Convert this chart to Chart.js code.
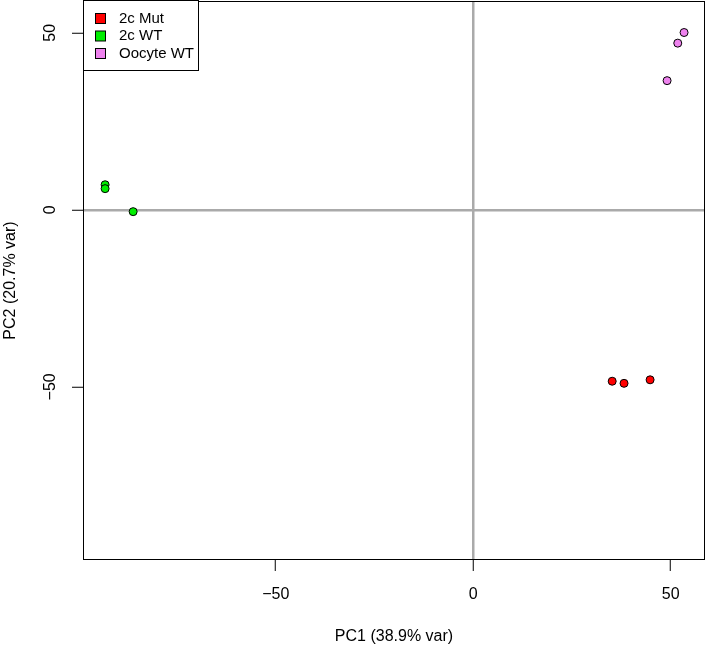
<!DOCTYPE html>
<html>
<head>
<meta charset="utf-8">
<script src="https://cdn.jsdelivr.net/npm/chart.js@4/dist/chart.umd.min.js"></script>
<style>
  html, body { margin: 0; padding: 0; background: #fff; }
  #wrap { width: 708px; height: 647px; }
</style>
</head>
<body>
<div id="wrap"><canvas id="pca"></canvas></div>
<script>
// PCA scores
var groups = ['2c Mut', '2c WT', 'Oocyte WT'];
var colors = ['#ff0000', '#00ee00', '#ee82ee'];

var mutPC1 = [35.2, 38.2, 44.8];
var mutPC2 = [-48.4, -49.0, -48.0];
var wtPC1 = [-93.2, -93.2, -86.1];
var wtPC2 = [7.1, 6.0, -0.5];
var oocPC1 = [53.4, 51.8, 49.1];
var oocPC2 = [50.1, 47.1, 36.5];

var xTicks = [-50, 0, 50];
var yTicks = [-50, 0, 50];

function pts(xs, ys) {
  return xs.map(function (x, i) { return { x: x, y: ys[i] }; });
}
var series = [pts(mutPC1, mutPC2), pts(wtPC1, wtPC2), pts(oocPC1, oocPC2)];

var FONT = 'Liberation Sans, Arial, sans-serif';
var minus = function (v) { return String(v).replace('-', '\u2212'); };

// frame around plot + R style legend box
var framePlugin = {
  id: 'frame',
  afterDraw: function (chart) {
    var ctx = chart.ctx, a = chart.chartArea;
    ctx.save();
    ctx.strokeStyle = '#000';
    ctx.lineWidth = 1;
    ctx.strokeRect(a.left + 0.5, a.top + 0.5, a.right - a.left - 1, a.bottom - a.top - 1);

    // legend
    var lx = a.left, ly = a.top - 1, lw = 115, lh = 70;
    ctx.fillStyle = '#fff';
    ctx.fillRect(lx, ly, lw, lh);
    ctx.strokeRect(lx + 0.5, ly + 0.5, lw, lh);
    ctx.font = '15px ' + FONT;
    ctx.textBaseline = 'middle';
    chart.data.datasets.forEach(function (ds, i) {
      var cy = ly + 18.5 + i * 17.5;
      ctx.fillStyle = ds.backgroundColor;
      ctx.fillRect(lx + 12.5, cy - 5, 10, 10);
      ctx.strokeStyle = '#000';
      ctx.strokeRect(lx + 12.5, cy - 5, 10, 10);
      ctx.fillStyle = '#000';
      ctx.fillText(ds.label, lx + 36, cy);
    });
    ctx.restore();
  }
};

function zeroGrid(ctx) {
  return ctx.tick && ctx.tick.value === 0 ? '#aaaaaa' : 'rgba(0,0,0,0)';
}

new Chart(document.getElementById('pca'), {
  type: 'scatter',
  data: {
    datasets: groups.map(function (g, i) {
      return {
        label: g,
        data: series[i],
        backgroundColor: colors[i],
        borderColor: '#000',
        borderWidth: 1,
        pointRadius: 4,
        pointHoverRadius: 4
      };
    })
  },
  options: {
    responsive: true,
    maintainAspectRatio: false,
    animation: false,
    layout: { autoPadding: false, padding: { top: 1, right: 3, left: 0, bottom: 0 } },
    plugins: { legend: { display: false }, tooltip: { enabled: false } },
    scales: {
      x: {
        type: 'linear',
        min: -98.8,
        max: 58.7,
        afterBuildTicks: function (s) { s.ticks = xTicks.map(function (v) { return { value: v }; }); },
        afterFit: function (s) { s.height = 87; s.paddingLeft = 0; s.paddingRight = 0; },
        border: { display: false },
        grid: {
          drawOnChartArea: true,
          color: zeroGrid,
          lineWidth: 2.5,
          tickColor: '#000',
          tickWidth: 1,
          tickLength: 11
        },
        ticks: {
          padding: 14,
          color: '#000',
          font: { family: FONT, size: 16 },
          maxRotation: 0,
          callback: minus
        },
        title: {
          display: true,
          text: 'PC1 (38.9% var)',
          color: '#000',
          font: { family: FONT, size: 16 },
          padding: { top: 0, bottom: 1 }
        }
      },
      y: {
        type: 'linear',
        min: -98.9,
        max: 59.0,
        afterBuildTicks: function (s) { s.ticks = yTicks.map(function (v) { return { value: v }; }); },
        afterFit: function (s) { s.width = 83; s.paddingTop = 0; s.paddingBottom = 0; },
        border: { display: false },
        grid: {
          drawOnChartArea: true,
          color: zeroGrid,
          lineWidth: 2.5,
          tickColor: '#000',
          tickWidth: 1,
          tickLength: 11
        },
        ticks: {
          padding: 8,
          color: '#000',
          crossAlign: 'center',
          minRotation: 90,
          maxRotation: 90,
          font: { family: FONT, size: 16 },
          callback: minus
        },
        title: {
          display: true,
          text: 'PC2 (20.7% var)',
          color: '#000',
          font: { family: FONT, size: 16 },
          padding: { top: 1, bottom: 0 }
        }
      }
    }
  },
  plugins: [framePlugin]
});
</script>
</body>
</html>
